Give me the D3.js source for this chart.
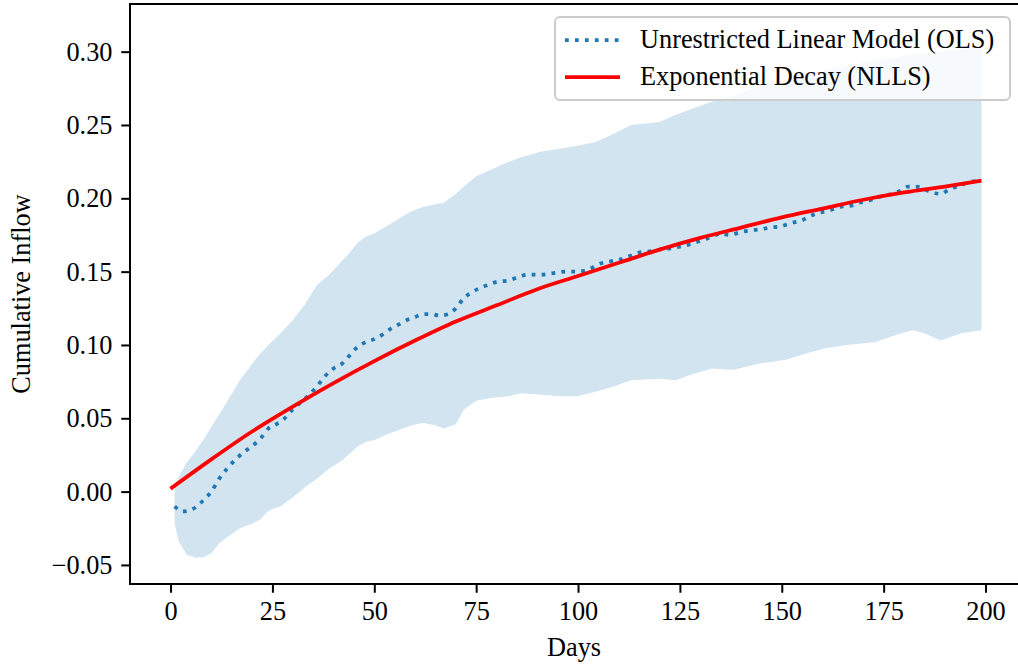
<!DOCTYPE html>
<html>
<head>
<meta charset="utf-8">
<script src="https://cdn.jsdelivr.net/npm/d3@7"></script>
<style>
  body { margin: 0; background: #fff; }
  text { font-family: "Liberation Serif", "DejaVu Serif", serif; }
</style>
</head>
<body>
<script>
var xTicks = [0, 25, 50, 75, 100, 125, 150, 175, 200],
    yTicks = [-0.05, 0, 0.05, 0.10, 0.15, 0.20, 0.25, 0.30];

// confidence band
var bandDays  = [1, 2, 4, 6, 8, 10, 12, 14, 17, 20, 22, 24, 27, 30, 33, 36, 39, 42, 44, 46, 48, 50, 53, 56, 59, 62, 65, 67, 70, 72, 75, 79, 83, 86, 91, 96, 100, 104, 108, 113, 120, 124, 128, 133, 138, 144, 151, 157, 161, 166, 173, 177, 182, 185, 189, 194, 199];
var bandUpper = [0.004, 0.010, 0.020, 0.027, 0.035, 0.044, 0.053, 0.062, 0.076, 0.087, 0.094, 0.100, 0.108, 0.117, 0.128, 0.141, 0.148, 0.157, 0.163, 0.170, 0.174, 0.176, 0.181, 0.186, 0.191, 0.194, 0.196, 0.197, 0.203, 0.208, 0.215, 0.220, 0.225, 0.228, 0.232, 0.234, 0.236, 0.238, 0.243, 0.250, 0.252, 0.257, 0.261, 0.266, 0.270, 0.276, 0.281, 0.285, 0.287, 0.290, 0.294, 0.296, 0.298, 0.299, 0.300, 0.302, 0.303];
var bandLower = [-0.022, -0.034, -0.043, -0.045, -0.045, -0.042, -0.035, -0.031, -0.025, -0.022, -0.019, -0.013, -0.010, -0.004, 0.003, 0.009, 0.016, 0.021, 0.026, 0.031, 0.034, 0.035, 0.039, 0.042, 0.045, 0.047, 0.045, 0.043, 0.046, 0.056, 0.062, 0.064, 0.065, 0.067, 0.066, 0.065, 0.065, 0.068, 0.071, 0.076, 0.077, 0.076, 0.080, 0.084, 0.083, 0.087, 0.090, 0.095, 0.098, 0.100, 0.102, 0.106, 0.110, 0.108, 0.103, 0.108, 0.110];

// unrestricted linear model (OLS)
var olsDays   = [1, 3, 6, 8, 10, 12, 14, 16, 18, 20, 22, 24, 26, 28, 30, 32, 34, 36, 38, 40, 42, 44, 46, 48, 50, 52, 54, 56, 58, 60, 62, 64, 66, 68, 70, 72, 74, 76, 78, 80, 83, 86, 88, 91, 94, 97, 100, 103, 105, 108, 110, 113, 115, 118, 120, 123, 125, 128, 130, 133, 135, 137, 140, 142, 145, 147, 150, 152, 155, 157, 159, 162, 164, 167, 169, 172, 174, 177, 179, 181, 183, 185, 187, 189, 191, 194, 196, 199];
var olsValues = [-0.010, -0.0135, -0.011, -0.006, 0.000, 0.009, 0.016, 0.022, 0.027, 0.031, 0.036, 0.043, 0.046, 0.050, 0.056, 0.061, 0.066, 0.072, 0.079, 0.084, 0.087, 0.093, 0.099, 0.102, 0.104, 0.107, 0.111, 0.114, 0.117, 0.119, 0.121, 0.121, 0.120, 0.121, 0.125, 0.132, 0.136, 0.139, 0.141, 0.143, 0.144, 0.147, 0.148, 0.148, 0.149, 0.150, 0.150, 0.152, 0.155, 0.157, 0.158, 0.161, 0.163, 0.164, 0.165, 0.166, 0.167, 0.169, 0.171, 0.174, 0.176, 0.175, 0.177, 0.178, 0.179, 0.180, 0.181, 0.183, 0.185, 0.188, 0.190, 0.192, 0.194, 0.195, 0.197, 0.199, 0.201, 0.203, 0.205, 0.208, 0.208, 0.206, 0.204, 0.203, 0.206, 0.209, 0.211, 0.212];

// exponential decay fit (NLLS)
var nllsDays   = [0, 10, 20, 30, 40, 50, 60, 70, 80, 90, 100, 110, 120, 130, 140, 150, 160, 170, 180, 190, 199];
var nllsValues = [0.002, 0.022, 0.041, 0.058, 0.074, 0.089, 0.103, 0.116, 0.127, 0.138, 0.147, 0.156, 0.165, 0.173, 0.180, 0.187, 0.193, 0.199, 0.204, 0.208, 0.212];

var seriesNames = ["Unrestricted Linear Model (OLS)", "Exponential Decay (NLLS)"];

var W = 1018, H = 664,
    axL = 130, axT = 4, axR = 1022, axB = 584,
    fs = "26.3px";

var svg = d3.select("body").append("svg").attr("width", W).attr("height", H);

var x = d3.scaleLinear().domain([-9.95, 208.95]).range([axL, axR]),
    y = d3.scaleLinear().domain([-0.063, 0.3325]).range([axB, axT]);

svg.append("clipPath").attr("id", "clip")
   .append("rect").attr("x", axL).attr("y", axT).attr("width", axR - axL).attr("height", axB - axT);

var plot = svg.append("g").attr("clip-path", "url(#clip)");

var area = d3.area()
  .x(function(d, i){ return x(bandDays[i]); })
  .y0(function(d, i){ return y(bandLower[i]); })
  .y1(function(d, i){ return y(bandUpper[i]); });

plot.append("path").datum(bandDays)
  .attr("d", area)
  .attr("fill", "#1f77b4").attr("fill-opacity", 0.2);

var olsLine = d3.line()
  .x(function(d, i){ return x(olsDays[i]); })
  .y(function(d){ return y(d); })
  .curve(d3.curveMonotoneX);

plot.append("path").datum(olsValues)
  .attr("d", olsLine)
  .attr("fill", "none").attr("stroke", "#1f77b4")
  .attr("stroke-width", 3.75).attr("stroke-dasharray", "3.75,6.2");

var nllsLine = d3.line()
  .x(function(d, i){ return x(nllsDays[i]); })
  .y(function(d){ return y(d); })
  .curve(d3.curveMonotoneX);

plot.append("path").datum(nllsValues)
  .attr("d", nllsLine)
  .attr("fill", "none").attr("stroke", "#ff0000")
  .attr("stroke-width", 3.75);

// axes
var fmt = function(d){ return d3.format(".2f")(d).replace("-", "\u2212"); };

var gx = svg.append("g").attr("transform", "translate(0," + axB + ")")
  .call(d3.axisBottom(x).tickValues(xTicks).tickSize(8.75).tickPadding(8.75));
var gy = svg.append("g").attr("transform", "translate(" + axL + ",0)")
  .call(d3.axisLeft(y).tickValues(yTicks).tickFormat(fmt).tickSize(8.75).tickPadding(8.75));

[gx, gy].forEach(function(g){
  g.select(".domain").remove();
  g.selectAll("line").attr("stroke", "#000").attr("stroke-width", 2);
  g.selectAll("text").attr("fill", "#000").style("font-size", fs)
    .style("font-family", "'Liberation Serif', serif");
});

// spines
svg.append("rect").attr("x", axL).attr("y", axT)
  .attr("width", axR - axL).attr("height", axB - axT)
  .attr("fill", "none").attr("stroke", "#000").attr("stroke-width", 2);

svg.append("text").attr("x", (axL + axR) / 2 - 2).attr("y", 656)
  .attr("text-anchor", "middle").style("font-size", fs).text("Days");

svg.append("text").attr("transform", "translate(30," + ((axT + axB) / 2) + ") rotate(-90)")
  .attr("text-anchor", "middle").style("font-size", fs).text("Cumulative Inflow");

// legend
var lg = svg.append("g");
lg.append("rect").attr("x", 555).attr("y", 17).attr("width", 455).attr("height", 83)
  .attr("rx", 5).attr("fill", "#fff").attr("fill-opacity", 0.8)
  .attr("stroke", "#cccccc").attr("stroke-width", 2);

var rows = lg.selectAll(".row").data(seriesNames).enter().append("g")
  .attr("transform", function(d, i){ return "translate(0," + (40 + i * 37) + ")"; });

rows.append("line").attr("x1", 565).attr("x2", 620).attr("y1", 0).attr("y2", 0)
  .attr("stroke", function(d, i){ return i === 0 ? "#1f77b4" : "#ff0000"; })
  .attr("stroke-width", 3.75)
  .attr("stroke-dasharray", function(d, i){ return i === 0 ? "3.75,6.2" : null; });

rows.append("text").attr("x", 640).attr("dy", "0.32em")
  .style("font-size", fs).text(function(d){ return d; });
</script>
</body>
</html>
